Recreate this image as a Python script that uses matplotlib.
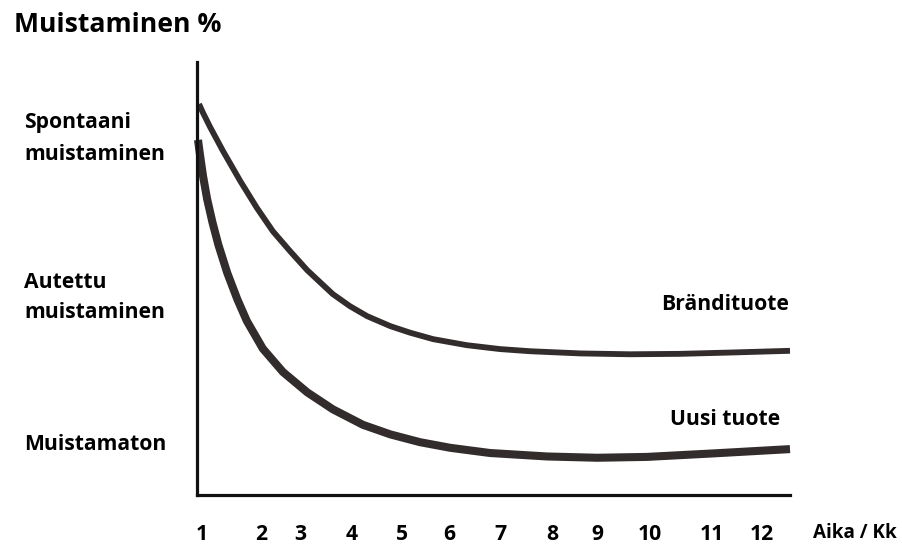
import matplotlib
matplotlib.use("Agg")
import matplotlib.pyplot as plt

plt.rcParams['font.family'] = ['Open Sans', 'DejaVu Sans']
plt.rcParams['font.weight'] = 'bold'

# time position along the axis (0..100) and recall level (0..100)
brand_x = [0.34, 1.0, 2.2, 4.4, 7.3, 10.1, 12.8, 15.7, 18.6, 22.9, 25.8, 28.7,
           32.6, 35.9, 39.8, 45.5, 51.1, 56.2, 64.6, 73.0, 81.5, 89.9, 100]
brand_y = [90.3, 88.3, 85.0, 79.4, 72.5, 66.3, 60.9, 56.3, 51.9, 46.4, 43.6, 41.3,
           39.0, 37.5, 36.0, 34.6, 33.7, 33.2, 32.7, 32.5, 32.6, 32.9, 33.3]

new_x = [0.17, 0.5, 1.0, 1.7, 2.6, 3.6, 5.1, 6.8, 8.4, 11.1, 14.5, 18.6, 22.9, 28.0,
         32.6, 37.6, 42.7, 49.4, 59.0, 67.5, 75.9, 87.0, 100]
new_y = [82.0, 78.6, 73.8, 68.4, 63.0, 57.8, 51.3, 45.2, 40.2, 33.8, 28.4, 23.7, 19.8, 16.2,
         14.0, 12.2, 10.9, 9.7, 8.9, 8.6, 8.8, 9.6, 10.6]

month_pos = [0.8, 10.8, 17.4, 26.1, 34.6, 42.5, 51.1, 59.9, 67.6, 76.4, 86.9, 95.3]
month_labels = ['1', '2', '3', '4', '5', '6', '7', '8', '9', '10', '11', '12']

level_lines = ['Spontaani', 'muistaminen', 'Autettu', 'muistaminen', 'Muistamaton']
level_baselines = [128, 160, 288, 318, 450]  # pixel rows

W, H = 902, 545
FS = 15.2
fig = plt.figure(figsize=(W / 100, H / 100), dpi=100)
ax = fig.add_axes([197 / W, (H - 495) / H, 593 / W, 433 / H])

line_col = '#332c2c'
ax.plot(brand_x, brand_y, color=line_col, lw=4.2, solid_capstyle='butt',
        solid_joinstyle='round', clip_on=False)
ax.plot(new_x, new_y, color=line_col, lw=5.8, solid_capstyle='butt',
        solid_joinstyle='round', clip_on=False)

ax.set_xlim(0, 100)
ax.set_ylim(0, 100)
for s in ['top', 'right']:
    ax.spines[s].set_visible(False)
for s in ['left', 'bottom']:
    ax.spines[s].set_linewidth(2.3)
    ax.spines[s].set_color('#111111')
ax.set_yticks([])
ax.set_xticks(month_pos)
ax.set_xticklabels(month_labels, fontsize=FS, fontweight='bold')
ax.tick_params(axis='x', length=0, pad=21)

ax.text((661 - 197) / 5.93, (495 - 310) / 4.33, 'Brändituote', fontsize=FS,
        fontweight='bold', ha='left', va='baseline')
ax.text((670 - 197) / 5.93, (495 - 425) / 4.33, 'Uusi tuote', fontsize=FS,
        fontweight='bold', ha='left', va='baseline')

fig.text(14 / W, 1 - 32 / H, 'Muistaminen %', fontsize=19.2, fontweight='bold',
         ha='left', va='baseline')
for lab, base in zip(level_lines, level_baselines):
    fig.text(24 / W, 1 - base / H, lab, fontsize=FS, fontweight='bold',
             ha='left', va='baseline')
fig.text(897 / W, 1 - 533 / H, 'Aika / Kk', fontsize=13.6, fontweight='bold',
         ha='right', va='center')

fig.savefig('out.png', dpi=100)
